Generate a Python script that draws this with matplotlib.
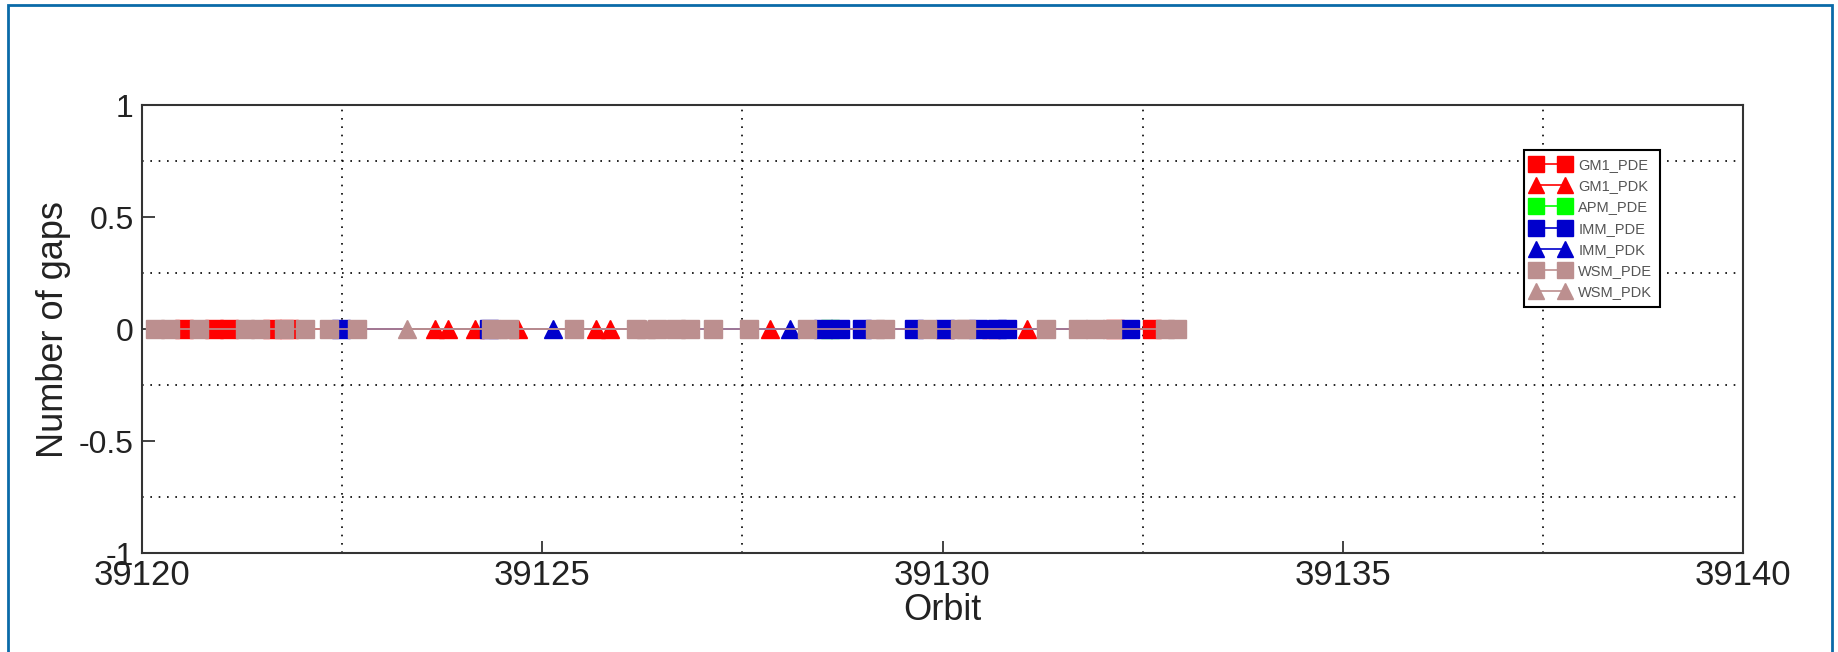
import matplotlib.pyplot as plt
from matplotlib.patches import Rectangle

# orbit positions of the gap records (all with 0 gaps)
gm1_pde = [39120.52, 39120.90, 39121.09, 39121.62, 39121.84, 39132.15, 39132.62]
gm1_pdk = [39123.66, 39123.82, 39124.16, 39124.70, 39125.67, 39125.85,
           39127.85, 39130.03, 39130.60, 39131.06]
apm_pde = [39128.60]
imm_pde = [39122.49, 39124.33, 39128.51, 39128.72, 39128.99, 39129.64,
           39130.03, 39130.44, 39130.68, 39130.80, 39132.34]
imm_pdk = [39125.13, 39128.09]
wsm_pde = [39120.16, 39120.35, 39120.71, 39121.29, 39121.47, 39121.77,
           39122.04, 39122.34, 39122.69, 39124.36, 39124.58, 39125.40,
           39126.17, 39126.43, 39126.67, 39126.85, 39127.13, 39127.58,
           39128.31, 39129.16, 39129.28, 39129.81, 39130.22, 39130.29,
           39131.29, 39131.69, 39131.90, 39132.12, 39132.78, 39132.93]
wsm_pdk = [39123.31, 39124.45, 39126.30]

series = [
    ('GM1_PDE', gm1_pde, 's', '#ff0000'),
    ('GM1_PDK', gm1_pdk, '^', '#ff0000'),
    ('APM_PDE', apm_pde, 's', '#00ff00'),
    ('IMM_PDE', imm_pde, 's', '#0000cc'),
    ('IMM_PDK', imm_pdk, '^', '#0000cc'),
    ('WSM_PDE', wsm_pde, 's', '#bc8f8f'),
    ('WSM_PDK', wsm_pdk, '^', '#bc8f8f'),
]

plt.rcParams['font.family'] = ['Liberation Sans', 'DejaVu Sans']

fig = plt.figure(figsize=(18.38, 6.52), dpi=100)
ax = fig.add_axes([0.0773, 0.1518, 0.871, 0.687])

for name, xs, mk, col in series:
    ax.plot(xs, [0] * len(xs), '-', marker=mk, color=col, markersize=12.5,
            markeredgecolor=col, linewidth=1.2, label=name)

ax.set_xlim(39120, 39140)
ax.set_ylim(-1, 1)
ax.set_xticks([39120, 39125, 39130, 39135, 39140])
ax.set_xticklabels(['39120', '39125', '39130', '39135', '39140'])
ax.set_yticks([-1, -0.5, 0, 0.5, 1])
ax.set_yticklabels(['-1', '-0.5', '0', '0.5', '1'])
ax.set_xticks([39122.5, 39127.5, 39132.5, 39137.5], minor=True)
ax.set_yticks([-0.75, -0.25, 0.25, 0.75], minor=True)
ax.grid(which='minor', color='black', linestyle=(0, (1, 4)), linewidth=1.2)
ax.tick_params(which='major', direction='in', length=9, width=1.2,
               top=False, right=False, colors='#222222')
ax.tick_params(axis='x', which='major', labelsize=25, pad=4)
ax.tick_params(axis='y', which='major', labelsize=23, pad=6)
ax.tick_params(which='minor', length=0)
for s in ax.spines.values():
    s.set_linewidth(1.5)
    s.set_color('#333333')

ax.set_xlabel('Orbit', fontsize=26, labelpad=1, color='#222222')
ax.set_ylabel('Number of gaps', fontsize=26, labelpad=6, color='#222222')

leg = ax.legend(loc='upper right', bbox_to_anchor=(0.9525, 0.915), fontsize=10.5,
                numpoints=2, handlelength=2.6, markerscale=0.9,
                fancybox=False, framealpha=1, edgecolor='black',
                borderpad=0.5, labelspacing=0.5, handletextpad=0.6)
leg.get_frame().set_linewidth(1.5)
for t in leg.get_texts():
    t.set_color('#555555')

# blue frame round the picture
fig.patches.append(Rectangle((8 / 1838, -0.02), 1824 / 1838, 1.02 - 5 / 652,
                             transform=fig.transFigure, fill=False,
                             edgecolor='#0a6aa8', linewidth=2))

fig.savefig('out.png', dpi=100)
